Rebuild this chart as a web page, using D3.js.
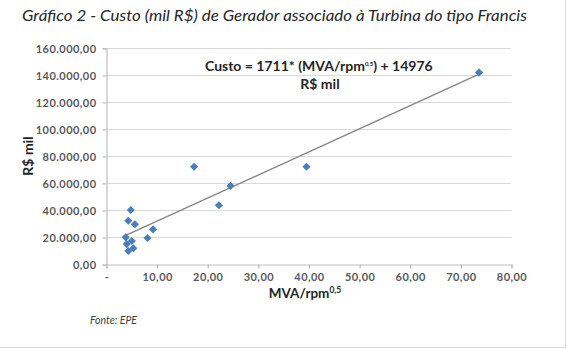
<!DOCTYPE html>
<html><head><meta charset="utf-8">
<script src="https://cdn.jsdelivr.net/npm/d3@7"></script>
<style>body{margin:0;background:#fff}svg{display:block}</style>
</head><body>
<svg id="c" width="567" height="349"></svg>
<script>
const xValues = [3.8, 4.0, 4.3, 4.3, 4.8, 5.0, 5.3, 5.6, 8.1, 9.2, 17.3, 22.2, 24.5, 39.5, 73.6];
const yValues = [20100, 15100, 10000, 32400, 40300, 17400, 12000, 29700, 19600, 26000, 72300, 43800, 58200, 72300, 142000];
const xTicks = [0, 10, 20, 30, 40, 50, 60, 70, 80];
const yTicks = [0, 20000, 40000, 60000, 80000, 100000, 120000, 140000, 160000];
const trendSlope = 1711, trendIntercept = 14976;
const titleText = "Gráfico 2 - Custo (mil R$) de Gerador associado à Turbina do tipo Francis";
const sourceText = "Fonte: EPE";

const svg = d3.select("#c");
const F = "Lato, 'Open Sans', sans-serif";
const x = d3.scaleLinear().domain([0, 80]).range([106.5, 511.5]);
const y = d3.scaleLinear().domain([0, 160000]).range([264.5, 48.3]);
const loc = d3.formatLocale({decimal: ",", thousands: ".", grouping: [3], currency: ["R$", ""]});
const fy = loc.format(",.2f");
const fx = v => v === 0 ? "-" : loc.format(",.2f")(v);

// frame
svg.append("line").attr("x1", 565.5).attr("x2", 565.5).attr("y1", 0).attr("y2", 347.5).attr("stroke", "#d9d9d9");
svg.append("line").attr("x1", 0).attr("x2", 565.5).attr("y1", 347.5).attr("y2", 347.5).attr("stroke", "#d9d9d9");

// title
svg.append("text").attr("x", 22).attr("y", 21).attr("font-family", F).attr("font-style", "italic")
  .attr("font-size", 15.5).attr("fill", "#262626").attr("textLength", 505).attr("lengthAdjust", "spacingAndGlyphs")
  .text(titleText);

// gridlines
svg.append("g").selectAll("line").data(yTicks.filter(d => d > 0)).join("line")
  .attr("x1", x(0)).attr("x2", x(80)).attr("y1", d => Math.round(y(d)) + 0.5).attr("y2", d => Math.round(y(d)) + 0.5)
  .attr("stroke", "#d9d9d9").attr("stroke-width", 1.2);

// axes
const xAxis = svg.append("g").attr("transform", `translate(0,${y(0)})`)
  .call(d3.axisBottom(x).tickValues(xTicks).tickFormat(fx).tickSize(4).tickPadding(5));
const yAxis = svg.append("g").attr("transform", `translate(${x(0)},0)`)
  .call(d3.axisLeft(y).tickValues(yTicks).tickFormat(fy).tickSize(4).tickPadding(6));
[xAxis, yAxis].forEach(a => {
  a.select(".domain").attr("stroke", "#bfbfbf").attr("stroke-width", 1.2);
  a.selectAll(".tick line").attr("stroke", "#bfbfbf").attr("stroke-width", 1.2);
  a.selectAll("text").attr("font-family", F).attr("font-weight", "bold").attr("font-size", 11)
    .attr("letter-spacing", 0.45).attr("fill", "#595959");
});
yAxis.selectAll("text").attr("dy", "0.35em");

// trend line
const xmin = d3.min(xValues), xmax = d3.max(xValues);
svg.append("line").attr("x1", x(xmin)).attr("y1", y(trendSlope * xmin + trendIntercept))
  .attr("x2", x(xmax)).attr("y2", y(trendSlope * xmax + trendIntercept))
  .attr("stroke", "#868686").attr("stroke-width", 1.4);

// points
const diamond = d3.symbol().type(d3.symbolDiamond2).size(42);
svg.append("g").selectAll("path").data(xValues).join("path")
  .attr("d", diamond).attr("transform", (d, i) => `translate(${x(d)},${y(yValues[i])})`)
  .attr("fill", "#4a7ebb");

// annotation
const ann = svg.append("text").attr("x", 205).attr("y", 71).attr("font-family", F).attr("font-weight", "bold")
  .attr("font-size", 14).attr("fill", "#262626");
ann.append("tspan").text("Custo = 1711* (MVA/rpm");
ann.append("tspan").attr("font-size", 6).attr("dy", -5).text("0,5");
ann.append("tspan").attr("dy", 5).text(") + 14976");
svg.append("text").attr("x", 320).attr("y", 89).attr("text-anchor", "middle").attr("font-family", F)
  .attr("font-weight", "bold").attr("font-size", 14).attr("fill", "#262626").text("R$ mil");

// axis titles
const xt = svg.append("text").attr("x", 305).attr("y", 298).attr("text-anchor", "middle").attr("font-family", F)
  .attr("font-weight", "bold").attr("font-size", 13.5).attr("fill", "#262626");
xt.append("tspan").text("MVA/rpm");
xt.append("tspan").attr("font-size", 8.5).attr("dy", -5).text("0,5");
svg.append("text").attr("transform", "translate(33,156) rotate(-90)").attr("text-anchor", "middle")
  .attr("font-family", F).attr("font-weight", "bold").attr("font-size", 14).attr("fill", "#262626").text("R$ mil");

// source
svg.append("text").attr("x", 90).attr("y", 324).attr("font-family", F).attr("font-style", "italic")
  .attr("font-size", 10.5).attr("fill", "#404040").text(sourceText);
</script>
</body></html>
